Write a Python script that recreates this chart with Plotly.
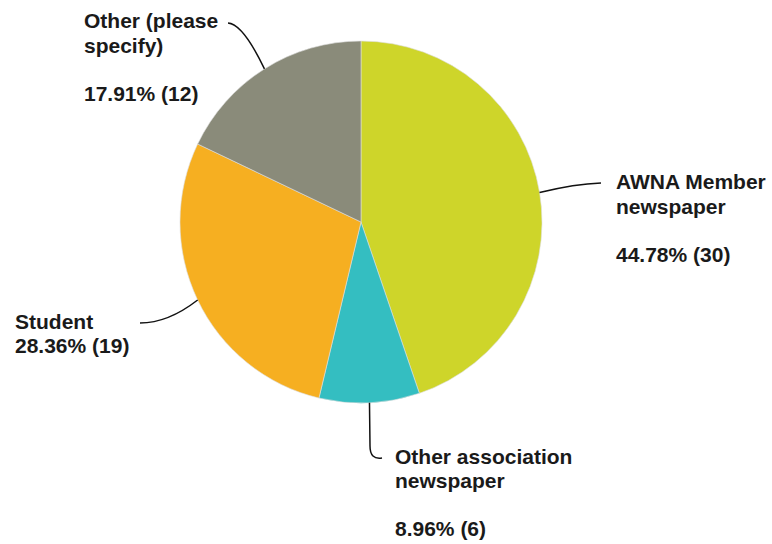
import math
import plotly.graph_objects as go

# ---- data ----
labels = ["AWNA Member newspaper", "Other association newspaper", "Student", "Other (please specify)"]
counts = [30, 6, 19, 12]
percents = [44.78, 8.96, 28.36, 17.91]
colors = ["#CED52A", "#34BEC1", "#F6AF21", "#8A8B7A"]

# label lines (as displayed) for each slice
label_lines = [
    ["AWNA Member", "newspaper", "", "44.78% (30)"],
    ["Other association", "newspaper", "", "8.96% (6)"],
    ["Student", "28.36% (19)"],
    ["Other (please", "specify)", "", "17.91% (12)"],
]

W, H = 772, 544
CX, CY, R = 361, 222, 181  # pie geometry in pixels

def px(x, y):
    return x / W, 1 - y / H

fig = go.Figure()
fig.add_trace(go.Pie(
    labels=labels, values=counts, sort=False, direction="clockwise", rotation=0,
    marker=dict(colors=colors, line=dict(color="#DDDDDD", width=0.6)),
    textinfo="none", hoverinfo="label+percent+value", showlegend=False,
    domain=dict(x=[(CX - R) / W, (CX + R) / W], y=[(H - CY - R) / H, (H - CY + R) / H]),
))

# label layout: left x, first baseline, line height; leader end & control points
LH = 24.3
label_pos = [
    dict(x=615, base=189.3, end=(601, 183), ctrl=(575, 184)),
    dict(x=394, base=463.3, end=(382, 458), ctrl=(370, 460), mid=(370, 446)),
    dict(x=14, base=328.3, end=(140, 323), ctrl=(168, 323)),
    dict(x=83, base=28.3, end=(228, 23), ctrl=(243, 24)),
]

total = sum(counts)
cum = 0
shapes = []
annotations = []
for i, c in enumerate(counts):
    frac_mid = (cum + c / 2) / total
    cum += c
    ang = 2 * math.pi * frac_mid
    sx = CX + R * math.sin(ang)
    sy = CY - R * math.cos(ang)
    lp = label_pos[i]
    if "mid" in lp:
        path = "M {} {} L {} {} Q {} {} {} {}".format(
            *px(sx, sy), *px(*lp["mid"]), *px(*lp["ctrl"]), *px(*lp["end"]))
    else:
        path = "M {} {} Q {} {} {} {}".format(
            *px(sx, sy), *px(*lp["ctrl"]), *px(*lp["end"]))
    shapes.append(dict(type="path", xref="paper", yref="paper", path=path,
                       line=dict(color="#111111", width=1.5)))
    for k, t in enumerate(label_lines[i]):
        if not t:
            continue
        base = lp["base"] + k * LH
        xx, yy = px(lp["x"], base - 7.3)
        annotations.append(dict(
            text="<b>" + t + "</b>", xref="paper", yref="paper", x=xx, y=yy,
            xanchor="left", yanchor="middle", showarrow=False,
            font=dict(family="Liberation Sans, Arial, sans-serif", size=21, color="#1A1A1A"),
            borderpad=0,
        ))

fig.update_layout(
    width=W, height=H, margin=dict(l=0, r=0, t=0, b=0),
    paper_bgcolor="white", plot_bgcolor="white",
    shapes=shapes, annotations=annotations,
)

fig.write_html("out.html", config={"displayModeBar": False},
               post_script="document.body.style.margin='0px';")
